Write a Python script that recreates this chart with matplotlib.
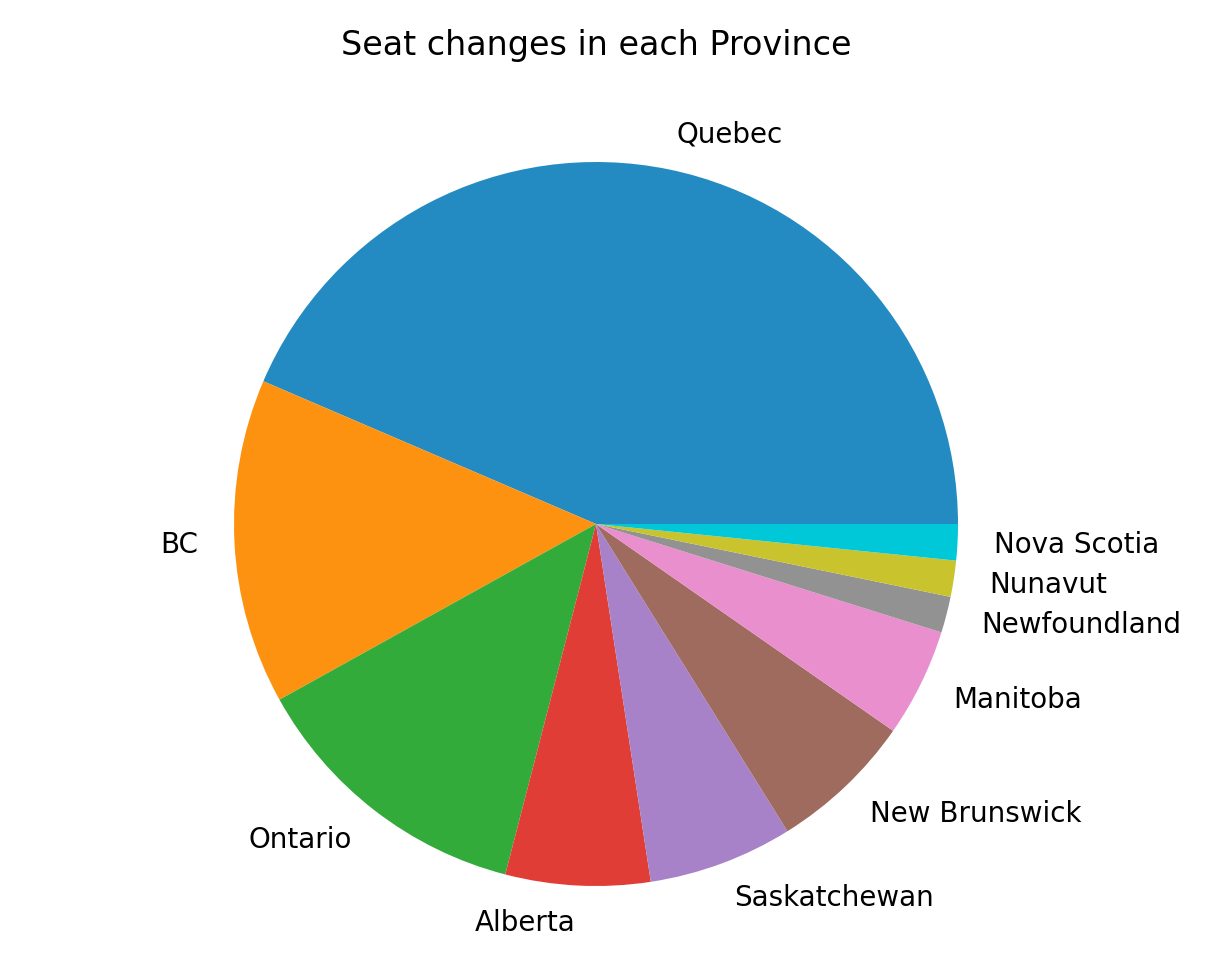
import matplotlib
matplotlib.use('Agg')
import matplotlib.pyplot as plt

provinces = ['Quebec', 'BC', 'Ontario', 'Alberta', 'Saskatchewan',
             'New Brunswick', 'Manitoba', 'Newfoundland', 'Nunavut', 'Nova Scotia']
seat_changes = [27, 9, 8, 4, 4, 4, 3, 1, 1, 1]
colors = ['#248bc2', '#fd9210', '#33ab3b', '#e03d36', '#a882c8',
          '#9e6b5e', '#e98fcd', '#929292', '#c9c42d', '#00c8d9']

fig = plt.figure(figsize=(6.05, 4.85), dpi=200)
W, H = 1210, 970
r = 362  # pie radius in pixels
cx, cy = 596, 970 - 525
ax = fig.add_axes([(cx - 1.25 * r) / W, (cy - 1.25 * r) / H, 2.5 * r / W, 2.5 * r / H])
ax.pie(seat_changes, labels=provinces, colors=colors)
ax.set_xlim(-1.25, 1.25)
ax.set_ylim(-1.25, 1.25)
fig.text(cx / W, 1 - 45 / H, 'Seat changes in each Province', fontsize=12,
         ha='center', va='center')

fig.savefig('out.png', dpi=200)
